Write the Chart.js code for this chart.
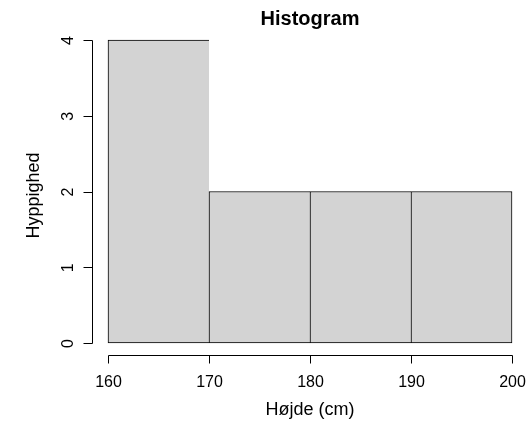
<!DOCTYPE html>
<html>
<head>
<meta charset="utf-8">
<script src="https://cdn.jsdelivr.net/npm/chart.js@4"></script>
<style>
  body{margin:0;background:#fff;}
  #wrap{width:532px;height:428px;}
</style>
</head>
<body>
<div id="wrap"><canvas id="mychart" width="532" height="428"></canvas></div>
<script>
// histogram data
const breaks=[160,170,180,190,200];
const counts=[4,2,2,2];
const xTicks=[160,170,180,190,200];
const yTicks=[0,1,2,3,4];
const titleText='Histogram';
const xLabel='Højde (cm)';
const yLabel='Hyppighed';

const FONT='"Liberation Sans", Arial, Helvetica, sans-serif';

let bars=counts.map((c,i)=>{return {x:(breaks[i]+breaks[i+1])/2,y:c}});
let borders=counts.map((c,i)=>{
  return {top:1,left:1,bottom:1,right:(i==counts.length-1)?1:0};
});

// R-style axes, labels and title
const rAxes={
  id:'rAxes',
  afterDraw(chart){
    let ctx=chart.ctx;
    let xs=chart.scales.x, ys=chart.scales.y;
    let area=chart.chartArea;
    ctx.save();
    ctx.strokeStyle='#000';
    ctx.fillStyle='#000';
    ctx.lineWidth=1;

    // x axis
    let axY=Math.round(area.bottom)+0.5;
    ctx.beginPath();
    ctx.moveTo(Math.round(xs.getPixelForValue(xTicks[0]))+0.5,axY);
    ctx.lineTo(Math.round(xs.getPixelForValue(xTicks[xTicks.length-1]))+0.5,axY);
    xTicks.forEach(t=>{
      let px=Math.round(xs.getPixelForValue(t))+0.5;
      ctx.moveTo(px,axY);
      ctx.lineTo(px,axY+8);
    });
    ctx.stroke();
    ctx.font='16px '+FONT;
    ctx.textAlign='center';
    ctx.textBaseline='middle';
    xTicks.forEach(t=>{
      ctx.fillText(String(t),xs.getPixelForValue(t)+0.5,axY+27);
    });

    // y axis
    let axX=Math.round(area.left)+0.5;
    ctx.beginPath();
    ctx.moveTo(axX,Math.round(ys.getPixelForValue(yTicks[0]))+0.5);
    ctx.lineTo(axX,Math.round(ys.getPixelForValue(yTicks[yTicks.length-1]))+0.5);
    yTicks.forEach(t=>{
      let py=Math.round(ys.getPixelForValue(t))+0.5;
      ctx.moveTo(axX,py);
      ctx.lineTo(axX-9,py);
    });
    ctx.stroke();
    yTicks.forEach(t=>{
      ctx.save();
      ctx.translate(axX-24,ys.getPixelForValue(t)+0.5);
      ctx.rotate(-Math.PI/2);
      ctx.fillText(String(t),0,0);
      ctx.restore();
    });

    // axis titles
    let cx=(area.left+area.right)/2, cy=(area.top+area.bottom)/2;
    ctx.font='18px '+FONT;
    ctx.fillText(xLabel,cx,410);
    ctx.save();
    ctx.translate(34,cy+4);
    ctx.rotate(-Math.PI/2);
    ctx.fillText(yLabel,0,0);
    ctx.restore();

    // main title
    ctx.font='bold 20px '+FONT;
    ctx.fillText(titleText,cx,19);
    ctx.restore();
  }
};

const config={
  type:'bar',
  data:{
    datasets:[{
      data:bars,
      backgroundColor:'#D3D3D3',
      borderColor:'#000000',
      borderWidth:borders,
      borderSkipped:false,
      barPercentage:1,
      categoryPercentage:1,
      clip:false
    }]
  },
  options:{
    responsive:false,
    animation:false,
    layout:{padding:{left:92,right:4,top:28,bottom:73}},
    plugins:{legend:{display:false},tooltip:{enabled:false},title:{display:false}},
    scales:{
      x:{
        type:'linear',display:false,offset:false,min:158.416,max:201.584,
        afterBuildTicks:(s)=>{s.ticks=xTicks.map(v=>({value:v}))}
      },
      y:{type:'linear',display:false,min:-0.1584,max:4.1584}
    }
  },
  plugins:[rAxes]
};
new Chart(document.getElementById('mychart'),config);
</script>
</body>
</html>
